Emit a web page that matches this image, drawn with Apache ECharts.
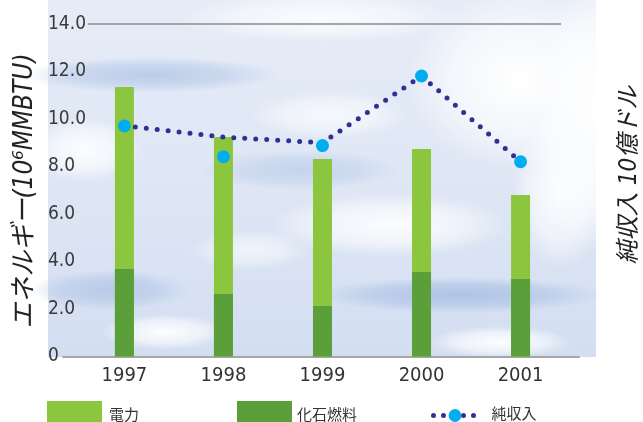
<!DOCTYPE html>
<html>
<head>
<meta charset="utf-8">
<script src="https://cdn.jsdelivr.net/npm/echarts@6/dist/echarts.min.js"></script>
<style>html,body{margin:0;padding:0;background:#fff;}#c{width:643px;height:422px;}</style>
</head>
<body>
<div id="c"></div>
<script>
// ---- data ----
const years = [1997, 1998, 1999, 2000, 2001];
const fossil = [3.68, 2.63, 2.13, 3.56, 3.26];        // 化石燃料
const electricity = [7.67, 6.61, 6.19, 5.18, 3.54];   // 電力 (on top of 化石燃料)
const netIncomeLine = [9.71, 9.24, 9.0, 11.81, 8.2];  // dotted trend line
const netIncome = [9.71, 8.41, 8.88, 11.81, 8.2];     // 純収入 markers
const yTicks = [0, 2, 4, 6, 8, 10, 12, 14];

const pair = (arr) => arr.map((v, i) => [years[i], v]);
// top of each stacked bar = 化石燃料 + 電力
const stackedTop = fossil.map((v, i) => v + electricity[i]);
const numFont = "'Liberation Sans Narrow','DejaVu Sans Condensed',sans-serif";
const cjkFont = "'Liberation Sans Narrow','DejaVu Sans Condensed','Noto Sans CJK JP',sans-serif";

function cloud(cx, cy, r, sx, sy, color, alpha) {
  return {
    type: 'circle', silent: true, z: -9,
    x: cx, y: cy, scaleX: sx, scaleY: sy,
    shape: { cx: 0, cy: 0, r: r },
    style: {
      fill: new echarts.graphic.RadialGradient(0.5, 0.5, 0.5, [
        { offset: 0, color: 'rgba(' + color + ',' + alpha + ')' },
        { offset: 0.6, color: 'rgba(' + color + ',' + (alpha * 0.6) + ')' },
        { offset: 1, color: 'rgba(' + color + ',0)' }
      ])
    }
  };
}
const W = '255,255,255', B = '170,192,228';

const chart = echarts.init(document.getElementById('c'), null, { renderer: 'canvas' });
chart.setOption({
  animation: false,
  backgroundColor: '#ffffff',
  grid: { left: 63, right: 64, top: 24, bottom: 65.5 },
  xAxis: {
    type: 'value', min: 1996.38, max: 2001.59,
    axisLine: { show: true, lineStyle: { color: '#a6a6a6', width: 2 } },
    axisTick: { show: false },
    splitLine: { show: false },
    axisLabel: {
      customValues: years, margin: 9,
      fontFamily: numFont, fontSize: 20, color: '#333333',
      formatter: (v) => String(Math.round(v))
    }
  },
  yAxis: {
    type: 'value', min: 0, max: 14, interval: 2,
    axisLine: { show: false }, axisTick: { show: false }, splitLine: { show: false },
    axisLabel: {
      align: 'left', margin: 15,
      fontFamily: numFont, fontSize: 19, color: '#3a3a3a',
      formatter: (v) => (v === 0 ? '0' : v.toFixed(1))
    }
  },
  legend: [
    { data: [{ name: '電力', icon: 'rect' }], left: 47, top: 401, padding: 0, itemWidth: 55, itemHeight: 30,
      textStyle: { fontFamily: cjkFont, fontSize: 15, color: '#333', padding: [0, 0, 0, 2] }, selectedMode: false },
    { data: [{ name: '化石燃料', icon: 'rect' }], left: 237, top: 401, padding: 0, itemWidth: 55, itemHeight: 30,
      textStyle: { fontFamily: cjkFont, fontSize: 15, color: '#333' }, selectedMode: false },
    { data: ['純収入'], left: 431, top: 408, padding: 0, itemWidth: 43, itemHeight: 16, itemGap: 0,
      lineStyle: { color: '#2e3192', width: 5, type: [0, 10], cap: 'round' },
      itemStyle: { color: '#00aeef' },
      textStyle: { fontFamily: cjkFont, fontSize: 15, color: '#333', padding: [0, 0, 0, 10] }, selectedMode: false }
  ],
  graphic: [
    { type: 'rect', silent: true, z: -10, shape: { x: 48, y: 0, width: 548, height: 357 },
      style: { fill: new echarts.graphic.LinearGradient(0, 0, 0, 1, [
        { offset: 0, color: '#e6ecf7' }, { offset: 0.5, color: '#dfe7f5' }, { offset: 1, color: '#d3def1' }]) } },
    cloud(150, 75, 40, 3.2, 0.45, B, 0.7),
    cloud(110, 290, 40, 2.0, 0.5, B, 0.7),
    cloud(460, 295, 40, 3.6, 0.45, B, 0.9),
    cloud(300, 170, 40, 2.5, 0.5, B, 0.5),
    cloud(520, 80, 60, 1.9, 1.5, W, 1),
    cloud(560, 190, 40, 1.2, 2.0, W, 0.9),
    cloud(600, 110, 40, 1.6, 3.6, W, 1),
    cloud(320, 18, 40, 3.5, 0.6, W, 0.8),
    cloud(85, 150, 40, 1.4, 0.8, W, 0.9),
    cloud(390, 225, 40, 3.0, 0.8, W, 0.9),
    cloud(330, 115, 40, 2.0, 0.6, W, 0.7),
    cloud(165, 332, 40, 1.6, 0.45, W, 0.95),
    cloud(500, 342, 40, 1.8, 0.4, W, 0.95),
    cloud(250, 250, 40, 1.5, 0.5, W, 0.6),
    {
      type: 'text', silent: true, x: 25, y: 191, rotation: Math.PI / 2,
      style: { text: 'エネルギー(10⁶MMBTU)', fontFamily: cjkFont, fontSize: 26, fontStyle: 'italic',
        fill: '#222', align: 'center', verticalAlign: 'middle' }
    },
    {
      type: 'text', silent: true, x: 630, y: 175, rotation: Math.PI / 2,
      style: { text: '純収入 10億ドル', fontFamily: cjkFont, fontSize: 24, fontStyle: 'italic',
        fill: '#222', align: 'center', verticalAlign: 'middle' }
    }
  ],
  series: [
    {
      name: '電力', type: 'bar', barWidth: 19,
      data: pair(stackedTop), itemStyle: { color: '#8cc63f' },
      markLine: {
        silent: true, symbol: 'none', label: { show: false },
        lineStyle: { color: '#a6a6a6', width: 2, type: 'solid' },
        data: [[{ coord: [1996.63, 14] }, { coord: [2001.41, 14] }]]
      }
    },
    {
      name: '化石燃料', type: 'bar', barWidth: 19, barGap: '-100%',
      data: pair(fossil), itemStyle: { color: '#5b9f3a' }
    },
    {
      name: '純収入', type: 'line', data: pair(netIncomeLine), symbol: 'none', z: 3,
      lineStyle: { color: '#2e3192', width: 5, type: [0, 11], cap: 'round' },
      itemStyle: { color: '#00aeef' }
    },
    {
      name: '純収入', type: 'scatter', data: pair(netIncome), symbolSize: 13, z: 4,
      itemStyle: { color: '#00aeef', opacity: 1 }
    }
  ]
});
</script>
</body>
</html>
